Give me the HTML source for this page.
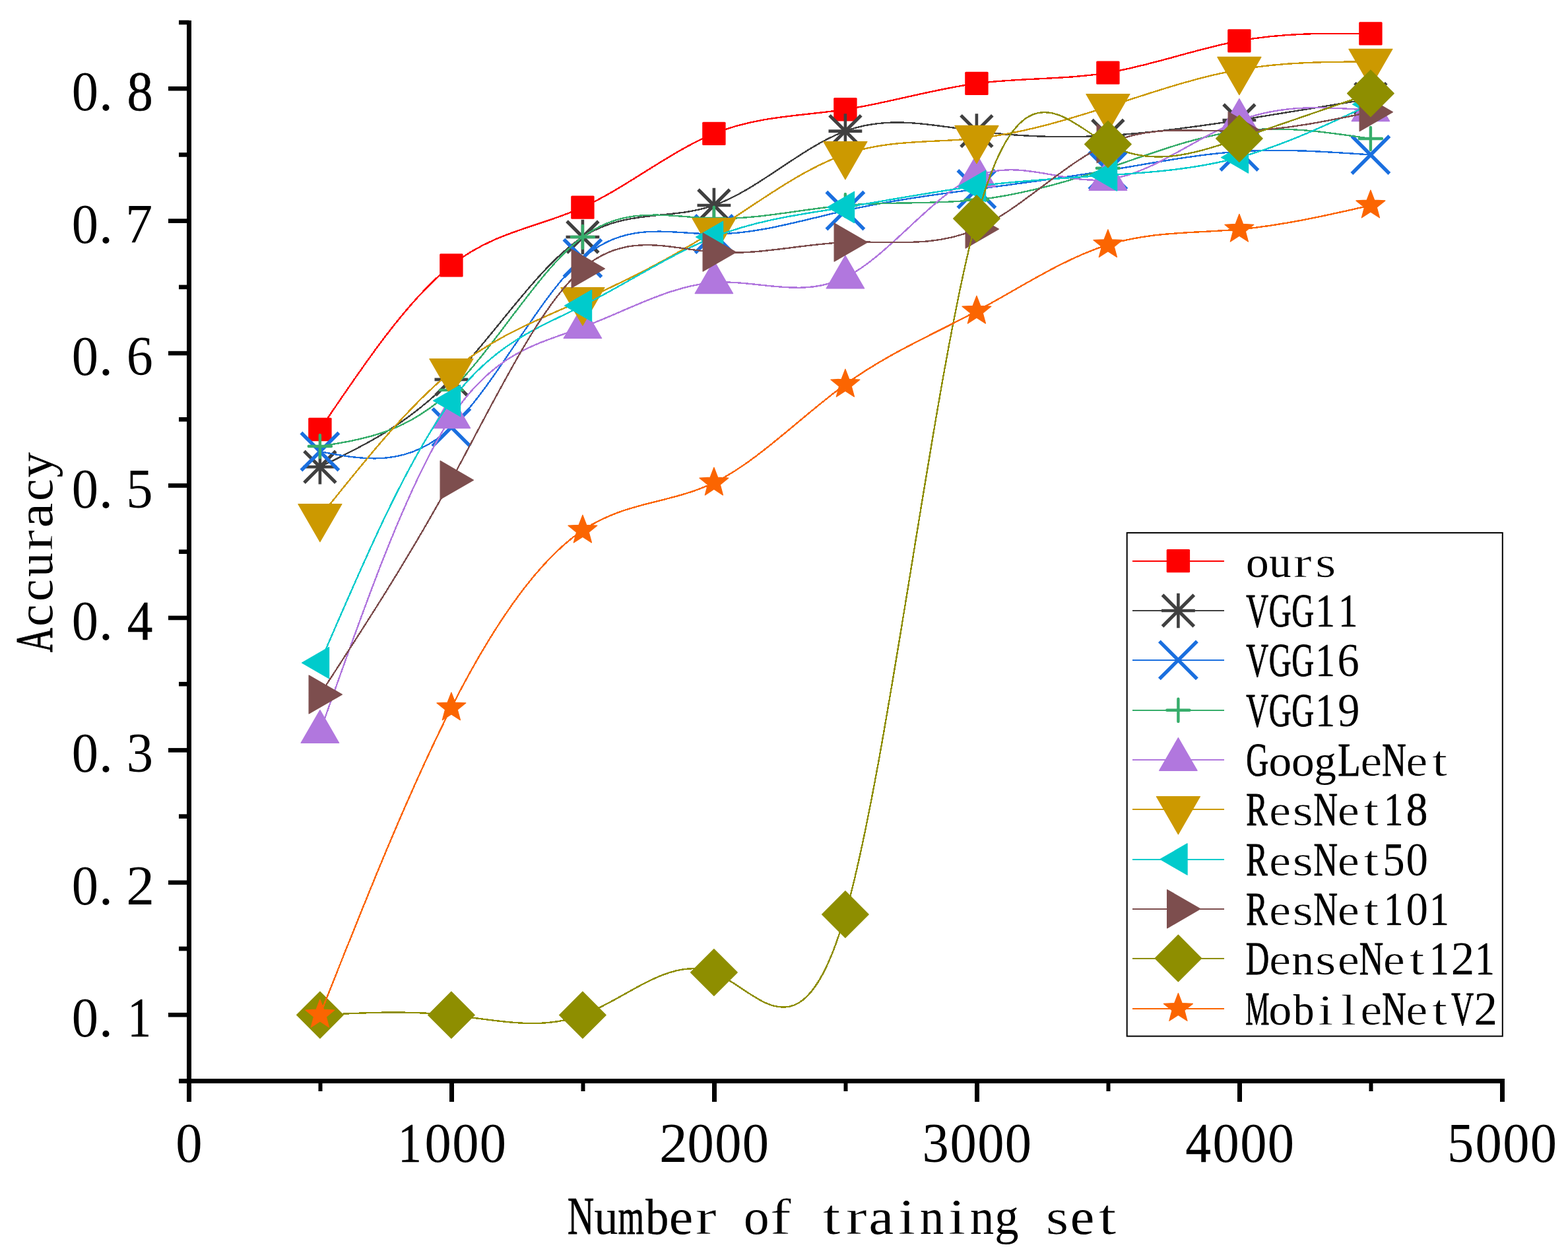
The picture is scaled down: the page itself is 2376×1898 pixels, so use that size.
<!DOCTYPE html>
<html lang="en">
<head>
<meta charset="utf-8">
<title>Accuracy vs number of training set</title>
<style>
html,body{margin:0;padding:0;background:#fff;}
body{width:2376px;height:1898px;overflow:hidden;}
svg{display:block;}
text{font-family:"Liberation Serif","Noto Serif CJK SC",serif;fill:#000;white-space:pre;}
</style>
</head>
<body>
<svg width="2376" height="1898" viewBox="0 0 2376 1898" role="img" aria-label="Accuracy versus number of training set">
<rect x="0" y="0" width="2376" height="1898" fill="#fff"/>
<g>
<path d="M484.9 650.5C551.23 552.2 617.57 453.89 683.9 401.9C750.23 349.91 816.57 344.22 882.9 314.1C949.23 283.98 1015.57 229.43 1081.9 202.4C1148.23 175.37 1214.57 175.87 1280.9 165.8C1347.23 155.73 1413.57 135.08 1479.9 126.4C1546.23 117.72 1612.57 121 1678.9 110.1C1745.23 99.2 1811.57 74.13 1877.9 61.9C1944.23 49.67 2010.57 50.29 2076.9 50.9" fill="none" stroke="#FE0000" stroke-width="2.4" shape-rendering="crispEdges"/>
<rect x="467.2" y="632.8" width="35.4" height="35.4" rx="1.5" fill="#FE0000"/>
<rect x="666.2" y="384.2" width="35.4" height="35.4" rx="1.5" fill="#FE0000"/>
<rect x="865.2" y="296.4" width="35.4" height="35.4" rx="1.5" fill="#FE0000"/>
<rect x="1064.2" y="184.7" width="35.4" height="35.4" rx="1.5" fill="#FE0000"/>
<rect x="1263.2" y="148.1" width="35.4" height="35.4" rx="1.5" fill="#FE0000"/>
<rect x="1462.2" y="108.7" width="35.4" height="35.4" rx="1.5" fill="#FE0000"/>
<rect x="1661.2" y="92.4" width="35.4" height="35.4" rx="1.5" fill="#FE0000"/>
<rect x="1860.2" y="44.2" width="35.4" height="35.4" rx="1.5" fill="#FE0000"/>
<rect x="2059.2" y="33.2" width="35.4" height="35.4" rx="1.5" fill="#FE0000"/>
</g>
<g>
<path d="M484.9 707.3C551.23 675.24 617.57 643.18 683.9 574.9C750.23 506.62 816.57 402.1 882.9 359C949.23 315.9 1015.57 334.2 1081.9 311C1148.23 287.8 1214.57 223.08 1280.9 198.6C1347.23 174.12 1413.57 189.86 1479.9 198.6C1546.23 207.34 1612.57 209.08 1678.9 205.3C1745.23 201.52 1811.57 192.2 1877.9 182C1944.23 171.8 2010.57 160.7 2076.9 149.6" fill="none" stroke="#404040" stroke-width="2.4" shape-rendering="crispEdges"/>
<path d="M459.5 707.3H510.3M484.9 681V733.6" stroke="#404040" stroke-width="4.6" fill="none"/><path d="M462.8 685.2L507 729.4M462.8 729.4L507 685.2" stroke="#404040" stroke-width="5.1" stroke-linecap="square" fill="none"/>
<path d="M658.5 574.9H709.3M683.9 548.6V601.2" stroke="#404040" stroke-width="4.6" fill="none"/><path d="M661.8 552.8L706 597M661.8 597L706 552.8" stroke="#404040" stroke-width="5.1" stroke-linecap="square" fill="none"/>
<path d="M857.5 359H908.3M882.9 332.7V385.3" stroke="#404040" stroke-width="4.6" fill="none"/><path d="M860.8 336.9L905 381.1M860.8 381.1L905 336.9" stroke="#404040" stroke-width="5.1" stroke-linecap="square" fill="none"/>
<path d="M1056.5 311H1107.3M1081.9 284.7V337.3" stroke="#404040" stroke-width="4.6" fill="none"/><path d="M1059.8 288.9L1104 333.1M1059.8 333.1L1104 288.9" stroke="#404040" stroke-width="5.1" stroke-linecap="square" fill="none"/>
<path d="M1255.5 198.6H1306.3M1280.9 172.3V224.9" stroke="#404040" stroke-width="4.6" fill="none"/><path d="M1258.8 176.5L1303 220.7M1258.8 220.7L1303 176.5" stroke="#404040" stroke-width="5.1" stroke-linecap="square" fill="none"/>
<path d="M1454.5 198.6H1505.3M1479.9 172.3V224.9" stroke="#404040" stroke-width="4.6" fill="none"/><path d="M1457.8 176.5L1502 220.7M1457.8 220.7L1502 176.5" stroke="#404040" stroke-width="5.1" stroke-linecap="square" fill="none"/>
<path d="M1653.5 205.3H1704.3M1678.9 179V231.6" stroke="#404040" stroke-width="4.6" fill="none"/><path d="M1656.8 183.2L1701 227.4M1656.8 227.4L1701 183.2" stroke="#404040" stroke-width="5.1" stroke-linecap="square" fill="none"/>
<path d="M1852.5 182H1903.3M1877.9 155.7V208.3" stroke="#404040" stroke-width="4.6" fill="none"/><path d="M1855.8 159.9L1900 204.1M1855.8 204.1L1900 159.9" stroke="#404040" stroke-width="5.1" stroke-linecap="square" fill="none"/>
<path d="M2051.5 149.6H2102.3M2076.9 123.3V175.9" stroke="#404040" stroke-width="4.6" fill="none"/><path d="M2054.8 127.5L2099 171.7M2054.8 171.7L2099 127.5" stroke="#404040" stroke-width="5.1" stroke-linecap="square" fill="none"/>
</g>
<g>
<path d="M484.9 684C551.23 696.62 617.57 709.24 683.9 647.3C750.23 585.36 816.57 448.84 882.9 391.1C949.23 333.36 1015.57 354.38 1081.9 354.5C1148.23 354.62 1214.57 333.84 1280.9 319C1347.23 304.16 1413.57 295.24 1479.9 286.5C1546.23 277.76 1612.57 269.18 1678.9 258.2C1745.23 247.22 1811.57 233.85 1877.9 229.5C1944.23 225.15 2010.57 229.83 2076.9 234.5" fill="none" stroke="#1A6FDF" stroke-width="2.4" shape-rendering="crispEdges"/>
<path d="M458.3 657.4L511.5 710.6M458.3 710.6L511.5 657.4" stroke="#1A6FDF" stroke-width="5.4" stroke-linecap="square" fill="none"/>
<path d="M657.3 620.7L710.5 673.9M657.3 673.9L710.5 620.7" stroke="#1A6FDF" stroke-width="5.4" stroke-linecap="square" fill="none"/>
<path d="M856.3 364.5L909.5 417.7M856.3 417.7L909.5 364.5" stroke="#1A6FDF" stroke-width="5.4" stroke-linecap="square" fill="none"/>
<path d="M1055.3 327.9L1108.5 381.1M1055.3 381.1L1108.5 327.9" stroke="#1A6FDF" stroke-width="5.4" stroke-linecap="square" fill="none"/>
<path d="M1254.3 292.4L1307.5 345.6M1254.3 345.6L1307.5 292.4" stroke="#1A6FDF" stroke-width="5.4" stroke-linecap="square" fill="none"/>
<path d="M1453.3 259.9L1506.5 313.1M1453.3 313.1L1506.5 259.9" stroke="#1A6FDF" stroke-width="5.4" stroke-linecap="square" fill="none"/>
<path d="M1652.3 231.6L1705.5 284.8M1652.3 284.8L1705.5 231.6" stroke="#1A6FDF" stroke-width="5.4" stroke-linecap="square" fill="none"/>
<path d="M1851.3 202.9L1904.5 256.1M1851.3 256.1L1904.5 202.9" stroke="#1A6FDF" stroke-width="5.4" stroke-linecap="square" fill="none"/>
<path d="M2050.3 207.9L2103.5 261.1M2050.3 261.1L2103.5 207.9" stroke="#1A6FDF" stroke-width="5.4" stroke-linecap="square" fill="none"/>
</g>
<g>
<path d="M484.9 676C551.23 665.6 617.57 655.21 683.9 590.9C750.23 526.59 816.57 408.37 882.9 359C949.23 309.63 1015.57 329.13 1081.9 330.9C1148.23 332.67 1214.57 316.73 1280.9 311C1347.23 305.27 1413.57 309.76 1479.9 302.7C1546.23 295.64 1612.57 277.02 1678.9 254.7C1745.23 232.38 1811.57 206.37 1877.9 198.3C1944.23 190.23 2010.57 200.12 2076.9 210" fill="none" stroke="#37AD6B" stroke-width="2.4" shape-rendering="crispEdges"/>
<path d="M467.8 676H502M484.9 658.9V693.1" stroke="#37AD6B" stroke-width="4.4" stroke-linecap="round" fill="none"/>
<path d="M666.8 590.9H701M683.9 573.8V608" stroke="#37AD6B" stroke-width="4.4" stroke-linecap="round" fill="none"/>
<path d="M865.8 359H900M882.9 341.9V376.1" stroke="#37AD6B" stroke-width="4.4" stroke-linecap="round" fill="none"/>
<path d="M1064.8 330.9H1099M1081.9 313.8V348" stroke="#37AD6B" stroke-width="4.4" stroke-linecap="round" fill="none"/>
<path d="M1263.8 311H1298M1280.9 293.9V328.1" stroke="#37AD6B" stroke-width="4.4" stroke-linecap="round" fill="none"/>
<path d="M1462.8 302.7H1497M1479.9 285.6V319.8" stroke="#37AD6B" stroke-width="4.4" stroke-linecap="round" fill="none"/>
<path d="M1661.8 254.7H1696M1678.9 237.6V271.8" stroke="#37AD6B" stroke-width="4.4" stroke-linecap="round" fill="none"/>
<path d="M1860.8 198.3H1895M1877.9 181.2V215.4" stroke="#37AD6B" stroke-width="4.4" stroke-linecap="round" fill="none"/>
<path d="M2059.8 210H2094M2076.9 192.9V227.1" stroke="#37AD6B" stroke-width="4.4" stroke-linecap="round" fill="none"/>
</g>
<g>
<path d="M484.9 1108.8C551.23 920.36 617.57 731.92 683.9 632C750.23 532.08 816.57 520.68 882.9 495.8C949.23 470.92 1015.57 432.55 1081.9 428C1148.23 423.45 1214.57 452.7 1280.9 420.3C1347.23 387.9 1413.57 293.85 1479.9 266.8C1546.23 239.75 1612.57 279.7 1678.9 271.8C1745.23 263.9 1811.57 208.14 1877.9 182.7C1944.23 157.26 2010.57 162.13 2076.9 167" fill="none" stroke="#B177DE" stroke-width="2.4" shape-rendering="crispEdges"/>
<polygon points="484.9,1075.59 513.66,1125.4 456.14,1125.4" fill="#B177DE" stroke="#B177DE" stroke-width="1.2" stroke-linejoin="round"/>
<polygon points="683.9,598.79 712.66,648.6 655.14,648.6" fill="#B177DE" stroke="#B177DE" stroke-width="1.2" stroke-linejoin="round"/>
<polygon points="882.9,462.59 911.66,512.4 854.14,512.4" fill="#B177DE" stroke="#B177DE" stroke-width="1.2" stroke-linejoin="round"/>
<polygon points="1081.9,394.79 1110.66,444.6 1053.14,444.6" fill="#B177DE" stroke="#B177DE" stroke-width="1.2" stroke-linejoin="round"/>
<polygon points="1280.9,387.09 1309.66,436.9 1252.14,436.9" fill="#B177DE" stroke="#B177DE" stroke-width="1.2" stroke-linejoin="round"/>
<polygon points="1479.9,233.59 1508.66,283.4 1451.14,283.4" fill="#B177DE" stroke="#B177DE" stroke-width="1.2" stroke-linejoin="round"/>
<polygon points="1678.9,238.59 1707.66,288.4 1650.14,288.4" fill="#B177DE" stroke="#B177DE" stroke-width="1.2" stroke-linejoin="round"/>
<polygon points="1877.9,149.49 1906.66,199.3 1849.14,199.3" fill="#B177DE" stroke="#B177DE" stroke-width="1.2" stroke-linejoin="round"/>
<polygon points="2076.9,133.79 2105.66,183.6 2048.14,183.6" fill="#B177DE" stroke="#B177DE" stroke-width="1.2" stroke-linejoin="round"/>
</g>
<g>
<path d="M484.9 782.6C551.23 699.56 617.57 616.52 683.9 562.6C750.23 508.68 816.57 483.9 882.9 454.7C949.23 425.5 1015.57 391.9 1081.9 349.6C1148.23 307.3 1214.57 256.3 1280.9 233.6C1347.23 210.9 1413.57 216.49 1479.9 209.5C1546.23 202.51 1612.57 182.94 1678.9 161.6C1745.23 140.26 1811.57 117.16 1877.9 105.5C1944.23 93.84 2010.57 93.62 2076.9 93.4" fill="none" stroke="#CC9900" stroke-width="2.4" shape-rendering="crispEdges"/>
<polygon points="484.9,820.77 517.96,763.51 451.84,763.51" fill="#CC9900" stroke="#CC9900" stroke-width="1.2" stroke-linejoin="round"/>
<polygon points="683.9,600.77 716.96,543.51 650.84,543.51" fill="#CC9900" stroke="#CC9900" stroke-width="1.2" stroke-linejoin="round"/>
<polygon points="882.9,492.87 915.96,435.61 849.84,435.61" fill="#CC9900" stroke="#CC9900" stroke-width="1.2" stroke-linejoin="round"/>
<polygon points="1081.9,387.77 1114.96,330.51 1048.84,330.51" fill="#CC9900" stroke="#CC9900" stroke-width="1.2" stroke-linejoin="round"/>
<polygon points="1280.9,271.77 1313.96,214.51 1247.84,214.51" fill="#CC9900" stroke="#CC9900" stroke-width="1.2" stroke-linejoin="round"/>
<polygon points="1479.9,247.67 1512.96,190.41 1446.84,190.41" fill="#CC9900" stroke="#CC9900" stroke-width="1.2" stroke-linejoin="round"/>
<polygon points="1678.9,199.77 1711.96,142.51 1645.84,142.51" fill="#CC9900" stroke="#CC9900" stroke-width="1.2" stroke-linejoin="round"/>
<polygon points="1877.9,143.67 1910.96,86.41 1844.84,86.41" fill="#CC9900" stroke="#CC9900" stroke-width="1.2" stroke-linejoin="round"/>
<polygon points="2076.9,131.57 2109.96,74.31 2043.84,74.31" fill="#CC9900" stroke="#CC9900" stroke-width="1.2" stroke-linejoin="round"/>
</g>
<g>
<path d="M484.9 1004C551.23 849.7 617.57 695.41 683.9 607.1C750.23 518.79 816.57 496.47 882.9 463.1C949.23 429.73 1015.57 385.31 1081.9 359C1148.23 332.69 1214.57 324.5 1280.9 313.9C1347.23 303.3 1413.57 290.31 1479.9 281.9C1546.23 273.49 1612.57 269.68 1678.9 265.4C1745.23 261.12 1811.57 256.38 1877.9 238.4C1944.23 220.42 2010.57 189.21 2076.9 158" fill="none" stroke="#00CBCC" stroke-width="2.4" shape-rendering="crispEdges"/>
<polygon points="457.52,1004 498.59,980.29 498.59,1027.71" fill="#00CBCC" stroke="#00CBCC" stroke-width="1.2" stroke-linejoin="round"/>
<polygon points="656.52,607.1 697.59,583.39 697.59,630.81" fill="#00CBCC" stroke="#00CBCC" stroke-width="1.2" stroke-linejoin="round"/>
<polygon points="855.52,463.1 896.59,439.39 896.59,486.81" fill="#00CBCC" stroke="#00CBCC" stroke-width="1.2" stroke-linejoin="round"/>
<polygon points="1054.52,359 1095.59,335.29 1095.59,382.71" fill="#00CBCC" stroke="#00CBCC" stroke-width="1.2" stroke-linejoin="round"/>
<polygon points="1253.52,313.9 1294.59,290.19 1294.59,337.61" fill="#00CBCC" stroke="#00CBCC" stroke-width="1.2" stroke-linejoin="round"/>
<polygon points="1452.52,281.9 1493.59,258.19 1493.59,305.61" fill="#00CBCC" stroke="#00CBCC" stroke-width="1.2" stroke-linejoin="round"/>
<polygon points="1651.52,265.4 1692.59,241.69 1692.59,289.11" fill="#00CBCC" stroke="#00CBCC" stroke-width="1.2" stroke-linejoin="round"/>
<polygon points="1850.52,238.4 1891.59,214.69 1891.59,262.11" fill="#00CBCC" stroke="#00CBCC" stroke-width="1.2" stroke-linejoin="round"/>
<polygon points="2049.52,158 2090.59,134.29 2090.59,181.71" fill="#00CBCC" stroke="#00CBCC" stroke-width="1.2" stroke-linejoin="round"/>
</g>
<g>
<path d="M484.9 1052C551.23 950.39 617.57 848.79 683.9 727.2C750.23 605.61 816.57 464.05 882.9 406.9C949.23 349.75 1015.57 377.02 1081.9 382C1148.23 386.98 1214.57 369.68 1280.9 367C1347.23 364.32 1413.57 376.28 1479.9 347C1546.23 317.72 1612.57 247.21 1678.9 217.7C1745.23 188.19 1811.57 199.67 1877.9 198.5C1944.23 197.33 2010.57 183.52 2076.9 169.7" fill="none" stroke="#7D4E4E" stroke-width="2.4" shape-rendering="crispEdges"/>
<polygon points="518.46,1052 468.12,1022.94 468.12,1081.06" fill="#7D4E4E" stroke="#7D4E4E" stroke-width="1.2" stroke-linejoin="round"/>
<polygon points="717.46,727.2 667.12,698.14 667.12,756.26" fill="#7D4E4E" stroke="#7D4E4E" stroke-width="1.2" stroke-linejoin="round"/>
<polygon points="916.46,406.9 866.12,377.84 866.12,435.96" fill="#7D4E4E" stroke="#7D4E4E" stroke-width="1.2" stroke-linejoin="round"/>
<polygon points="1115.46,382 1065.12,352.94 1065.12,411.06" fill="#7D4E4E" stroke="#7D4E4E" stroke-width="1.2" stroke-linejoin="round"/>
<polygon points="1314.46,367 1264.12,337.94 1264.12,396.06" fill="#7D4E4E" stroke="#7D4E4E" stroke-width="1.2" stroke-linejoin="round"/>
<polygon points="1513.46,347 1463.12,317.94 1463.12,376.06" fill="#7D4E4E" stroke="#7D4E4E" stroke-width="1.2" stroke-linejoin="round"/>
<polygon points="1712.46,217.7 1662.12,188.64 1662.12,246.76" fill="#7D4E4E" stroke="#7D4E4E" stroke-width="1.2" stroke-linejoin="round"/>
<polygon points="1911.46,198.5 1861.12,169.44 1861.12,227.56" fill="#7D4E4E" stroke="#7D4E4E" stroke-width="1.2" stroke-linejoin="round"/>
<polygon points="2110.46,169.7 2060.12,140.64 2060.12,198.76" fill="#7D4E4E" stroke="#7D4E4E" stroke-width="1.2" stroke-linejoin="round"/>
</g>
<g>
<path d="M484.9 1537.4C551.23 1534.01 617.57 1530.62 683.9 1537.6C750.23 1544.58 816.57 1561.93 882.9 1537.6C949.23 1513.27 1015.57 1447.24 1081.9 1473C1148.23 1498.76 1214.57 1616.3 1280.9 1385.1C1347.23 1153.9 1413.57 573.96 1479.9 331.1C1546.23 88.24 1612.57 182.45 1678.9 218.5C1745.23 254.55 1811.57 232.43 1877.9 209.9C1944.23 187.37 2010.57 164.44 2076.9 141.5" fill="none" stroke="#8E8E00" stroke-width="2.4" shape-rendering="crispEdges"/>
<polygon points="484.9,1502.05 520.25,1537.4 484.9,1572.75 449.55,1537.4" fill="#8E8E00" stroke="#8E8E00" stroke-width="1.2" stroke-linejoin="round"/>
<polygon points="683.9,1502.25 719.25,1537.6 683.9,1572.95 648.55,1537.6" fill="#8E8E00" stroke="#8E8E00" stroke-width="1.2" stroke-linejoin="round"/>
<polygon points="882.9,1502.25 918.25,1537.6 882.9,1572.95 847.55,1537.6" fill="#8E8E00" stroke="#8E8E00" stroke-width="1.2" stroke-linejoin="round"/>
<polygon points="1081.9,1437.65 1117.25,1473 1081.9,1508.35 1046.55,1473" fill="#8E8E00" stroke="#8E8E00" stroke-width="1.2" stroke-linejoin="round"/>
<polygon points="1280.9,1349.75 1316.25,1385.1 1280.9,1420.45 1245.55,1385.1" fill="#8E8E00" stroke="#8E8E00" stroke-width="1.2" stroke-linejoin="round"/>
<polygon points="1479.9,295.75 1515.25,331.1 1479.9,366.45 1444.55,331.1" fill="#8E8E00" stroke="#8E8E00" stroke-width="1.2" stroke-linejoin="round"/>
<polygon points="1678.9,183.15 1714.25,218.5 1678.9,253.85 1643.55,218.5" fill="#8E8E00" stroke="#8E8E00" stroke-width="1.2" stroke-linejoin="round"/>
<polygon points="1877.9,174.55 1913.25,209.9 1877.9,245.25 1842.55,209.9" fill="#8E8E00" stroke="#8E8E00" stroke-width="1.2" stroke-linejoin="round"/>
<polygon points="2076.9,106.15 2112.25,141.5 2076.9,176.85 2041.55,141.5" fill="#8E8E00" stroke="#8E8E00" stroke-width="1.2" stroke-linejoin="round"/>
</g>
<g>
<path d="M484.9 1537.2C551.23 1369.85 617.57 1202.5 683.9 1072C750.23 941.5 816.57 847.85 882.9 803.3C949.23 758.75 1015.57 763.31 1081.9 731.2C1148.23 699.09 1214.57 630.31 1280.9 582.3C1347.23 534.29 1413.57 507.04 1479.9 471.3C1546.23 435.56 1612.57 391.34 1678.9 370.8C1745.23 350.26 1811.57 353.4 1877.9 347.4C1944.23 341.4 2010.57 326.25 2076.9 311.1" fill="none" stroke="#FB6501" stroke-width="2.4" shape-rendering="crispEdges"/>
<polygon points="484.9,1514.07 490.71,1529.2 506.89,1530.05 494.3,1540.25 498.49,1555.91 484.9,1547.08 471.31,1555.91 475.5,1540.25 462.91,1530.05 479.09,1529.2" fill="#FB6501" stroke="#FB6501" stroke-width="1.2" stroke-linejoin="round"/>
<polygon points="683.9,1048.87 689.71,1064 705.89,1064.85 693.3,1075.05 697.49,1090.71 683.9,1081.88 670.31,1090.71 674.5,1075.05 661.91,1064.85 678.09,1064" fill="#FB6501" stroke="#FB6501" stroke-width="1.2" stroke-linejoin="round"/>
<polygon points="882.9,780.17 888.71,795.3 904.89,796.15 892.3,806.35 896.49,822.01 882.9,813.18 869.31,822.01 873.5,806.35 860.91,796.15 877.09,795.3" fill="#FB6501" stroke="#FB6501" stroke-width="1.2" stroke-linejoin="round"/>
<polygon points="1081.9,708.07 1087.71,723.2 1103.89,724.05 1091.3,734.25 1095.49,749.91 1081.9,741.08 1068.31,749.91 1072.5,734.25 1059.91,724.05 1076.09,723.2" fill="#FB6501" stroke="#FB6501" stroke-width="1.2" stroke-linejoin="round"/>
<polygon points="1280.9,559.17 1286.71,574.3 1302.89,575.15 1290.3,585.35 1294.49,601.01 1280.9,592.18 1267.31,601.01 1271.5,585.35 1258.91,575.15 1275.09,574.3" fill="#FB6501" stroke="#FB6501" stroke-width="1.2" stroke-linejoin="round"/>
<polygon points="1479.9,448.17 1485.71,463.3 1501.89,464.15 1489.3,474.35 1493.49,490.01 1479.9,481.18 1466.31,490.01 1470.5,474.35 1457.91,464.15 1474.09,463.3" fill="#FB6501" stroke="#FB6501" stroke-width="1.2" stroke-linejoin="round"/>
<polygon points="1678.9,347.67 1684.71,362.8 1700.89,363.65 1688.3,373.85 1692.49,389.51 1678.9,380.68 1665.31,389.51 1669.5,373.85 1656.91,363.65 1673.09,362.8" fill="#FB6501" stroke="#FB6501" stroke-width="1.2" stroke-linejoin="round"/>
<polygon points="1877.9,324.27 1883.71,339.4 1899.89,340.25 1887.3,350.45 1891.49,366.11 1877.9,357.28 1864.31,366.11 1868.5,350.45 1855.91,340.25 1872.09,339.4" fill="#FB6501" stroke="#FB6501" stroke-width="1.2" stroke-linejoin="round"/>
<polygon points="2076.9,287.97 2082.71,303.1 2098.89,303.95 2086.3,314.15 2090.49,329.81 2076.9,320.98 2063.31,329.81 2067.5,314.15 2054.91,303.95 2071.09,303.1" fill="#FB6501" stroke="#FB6501" stroke-width="1.2" stroke-linejoin="round"/>
</g>
<g fill="#000"><rect x="283" y="31" width="7" height="1638"/><rect x="271" y="1634" width="2009" height="7"/><rect x="255" y="1533.98" width="31.5" height="6.6"/><rect x="271" y="1433.76" width="15.5" height="6.6"/><rect x="255" y="1333.54" width="31.5" height="6.6"/><rect x="271" y="1233.32" width="15.5" height="6.6"/><rect x="255" y="1133.1" width="31.5" height="6.6"/><rect x="271" y="1032.88" width="15.5" height="6.6"/><rect x="255" y="932.66" width="31.5" height="6.6"/><rect x="271" y="832.44" width="15.5" height="6.6"/><rect x="255" y="732.22" width="31.5" height="6.6"/><rect x="271" y="632" width="15.5" height="6.6"/><rect x="255" y="531.78" width="31.5" height="6.6"/><rect x="271" y="431.56" width="15.5" height="6.6"/><rect x="255" y="331.34" width="31.5" height="6.6"/><rect x="271" y="231.12" width="15.5" height="6.6"/><rect x="255" y="130.9" width="31.5" height="6.6"/><rect x="271" y="30.68" width="15.5" height="6.6"/><rect x="283" y="1637.5" width="7" height="31.5"/><rect x="482.5" y="1637.5" width="6" height="15.5"/><rect x="681" y="1637.5" width="7" height="31.5"/><rect x="880.5" y="1637.5" width="6" height="15.5"/><rect x="1079" y="1637.5" width="7" height="31.5"/><rect x="1278.5" y="1637.5" width="6" height="15.5"/><rect x="1477" y="1637.5" width="7" height="31.5"/><rect x="1676.5" y="1637.5" width="6" height="15.5"/><rect x="1875" y="1637.5" width="7" height="31.5"/><rect x="2074.5" y="1637.5" width="6" height="15.5"/><rect x="2273" y="1637.5" width="7" height="31.5"/></g>
<text y="1570.28" font-size="85.53"><tspan x="108.68" textLength="40.31" lengthAdjust="spacingAndGlyphs">0</tspan><tspan x="149.87">.</tspan><tspan x="193.43" textLength="35.51" lengthAdjust="spacingAndGlyphs" stroke="#000" stroke-width="0.5">1</tspan></text>
<text y="1369.84" font-size="85.53"><tspan x="108.68" textLength="40.31" lengthAdjust="spacingAndGlyphs">0</tspan><tspan x="149.87">.</tspan><tspan x="191.27">2</tspan></text>
<text y="1169.4" font-size="85.53"><tspan x="108.68" textLength="40.31" lengthAdjust="spacingAndGlyphs">0</tspan><tspan x="149.87">.</tspan><tspan x="191.64" textLength="40.35" lengthAdjust="spacingAndGlyphs">3</tspan></text>
<text y="968.96" font-size="85.53"><tspan x="108.68" textLength="40.31" lengthAdjust="spacingAndGlyphs">0</tspan><tspan x="149.87">.</tspan><tspan x="192.75" textLength="38.54" lengthAdjust="spacingAndGlyphs" stroke="#000" stroke-width="0.5">4</tspan></text>
<text y="768.52" font-size="85.53"><tspan x="108.68" textLength="40.31" lengthAdjust="spacingAndGlyphs">0</tspan><tspan x="149.87">.</tspan><tspan x="191.23" textLength="40.34" lengthAdjust="spacingAndGlyphs">5</tspan></text>
<text y="568.08" font-size="85.53"><tspan x="108.68" textLength="40.31" lengthAdjust="spacingAndGlyphs">0</tspan><tspan x="149.87">.</tspan><tspan x="191.65" textLength="39.99" lengthAdjust="spacingAndGlyphs">6</tspan></text>
<text y="367.64" font-size="85.53"><tspan x="108.68" textLength="40.31" lengthAdjust="spacingAndGlyphs">0</tspan><tspan x="149.87">.</tspan><tspan x="190.08" textLength="41.12" lengthAdjust="spacingAndGlyphs">7</tspan></text>
<text y="167.2" font-size="85.53"><tspan x="108.68" textLength="40.31" lengthAdjust="spacingAndGlyphs">0</tspan><tspan x="149.87">.</tspan><tspan x="192.51" textLength="39.32" lengthAdjust="spacingAndGlyphs" stroke="#000" stroke-width="0.5">8</tspan></text>
<text y="1760" font-size="85.53"><tspan x="266.35" textLength="40.31" lengthAdjust="spacingAndGlyphs">0</tspan></text>
<text y="1760" font-size="85.53"><tspan x="603.26" textLength="35.51" lengthAdjust="spacingAndGlyphs" stroke="#000" stroke-width="0.5">1</tspan><tspan x="643.51" textLength="40.31" lengthAdjust="spacingAndGlyphs">0</tspan><tspan x="685.18" textLength="40.31" lengthAdjust="spacingAndGlyphs">0</tspan><tspan x="726.85" textLength="40.31" lengthAdjust="spacingAndGlyphs">0</tspan></text>
<text y="1760" font-size="85.53"><tspan x="999.1">2</tspan><tspan x="1041.51" textLength="40.31" lengthAdjust="spacingAndGlyphs">0</tspan><tspan x="1083.18" textLength="40.31" lengthAdjust="spacingAndGlyphs">0</tspan><tspan x="1124.85" textLength="40.31" lengthAdjust="spacingAndGlyphs">0</tspan></text>
<text y="1760" font-size="85.53"><tspan x="1397.47" textLength="40.35" lengthAdjust="spacingAndGlyphs">3</tspan><tspan x="1439.51" textLength="40.31" lengthAdjust="spacingAndGlyphs">0</tspan><tspan x="1481.18" textLength="40.31" lengthAdjust="spacingAndGlyphs">0</tspan><tspan x="1522.85" textLength="40.31" lengthAdjust="spacingAndGlyphs">0</tspan></text>
<text y="1760" font-size="85.53"><tspan x="1796.58" textLength="38.54" lengthAdjust="spacingAndGlyphs" stroke="#000" stroke-width="0.5">4</tspan><tspan x="1837.51" textLength="40.31" lengthAdjust="spacingAndGlyphs">0</tspan><tspan x="1879.18" textLength="40.31" lengthAdjust="spacingAndGlyphs">0</tspan><tspan x="1920.85" textLength="40.31" lengthAdjust="spacingAndGlyphs">0</tspan></text>
<text y="1760" font-size="85.53"><tspan x="2193.06" textLength="40.34" lengthAdjust="spacingAndGlyphs">5</tspan><tspan x="2235.51" textLength="40.31" lengthAdjust="spacingAndGlyphs">0</tspan><tspan x="2277.18" textLength="40.31" lengthAdjust="spacingAndGlyphs">0</tspan><tspan x="2318.85" textLength="40.31" lengthAdjust="spacingAndGlyphs">0</tspan></text>
<text y="1868.5" font-size="79.5"><tspan x="860.08" textLength="40.12" lengthAdjust="spacingAndGlyphs" stroke="#000" stroke-width="1">N</tspan><tspan x="900.24" font-size="77" textLength="36.4" lengthAdjust="spacingAndGlyphs">u</tspan><tspan x="936.63" font-size="77" textLength="39.08" lengthAdjust="spacingAndGlyphs" stroke="#000" stroke-width="1">m</tspan><tspan x="978.15" font-size="77" textLength="34.96" lengthAdjust="spacingAndGlyphs" stroke="#000" stroke-width="0.5">b</tspan><tspan x="1013.89" font-size="77" textLength="36.46" lengthAdjust="spacingAndGlyphs">e</tspan><tspan x="1053.73" font-size="77" textLength="32.05" lengthAdjust="spacingAndGlyphs" stroke="#fff" stroke-width="0.7">r</tspan> <tspan x="1127.05" font-size="77">o</tspan><tspan x="1166.79" font-size="77" textLength="32.05" lengthAdjust="spacingAndGlyphs" stroke="#fff" stroke-width="0.7">f</tspan> <tspan x="1246.74" font-size="77" textLength="26.74" lengthAdjust="spacingAndGlyphs" stroke="#fff" stroke-width="0.7">t</tspan><tspan x="1281.73" font-size="77" textLength="32.05" lengthAdjust="spacingAndGlyphs" stroke="#fff" stroke-width="0.7">r</tspan><tspan x="1316.6" font-size="77" textLength="37.57" lengthAdjust="spacingAndGlyphs">a</tspan><tspan x="1360.89" font-size="77" textLength="26.64" lengthAdjust="spacingAndGlyphs" stroke="#fff" stroke-width="0.7">i</tspan><tspan x="1393.92" font-size="77" textLength="36.2" lengthAdjust="spacingAndGlyphs">n</tspan><tspan x="1436.89" font-size="77" textLength="26.64" lengthAdjust="spacingAndGlyphs" stroke="#fff" stroke-width="0.7">i</tspan><tspan x="1469.92" font-size="77" textLength="36.2" lengthAdjust="spacingAndGlyphs">n</tspan><tspan x="1507.21" font-size="77" textLength="36.44" lengthAdjust="spacingAndGlyphs">g</tspan> <tspan x="1584.78" font-size="77" textLength="34.6" lengthAdjust="spacingAndGlyphs" stroke="#fff" stroke-width="0.7">s</tspan><tspan x="1621.89" font-size="77" textLength="36.46" lengthAdjust="spacingAndGlyphs">e</tspan><tspan x="1664.74" font-size="77" textLength="26.74" lengthAdjust="spacingAndGlyphs" stroke="#fff" stroke-width="0.7">t</tspan></text>
<text y="0" font-size="79.5" transform="translate(79 988.8) rotate(-90)"><tspan x="0.45" textLength="36.98" lengthAdjust="spacingAndGlyphs" stroke="#000" stroke-width="1">A</tspan><tspan x="40.08" font-size="77" textLength="33.28" lengthAdjust="spacingAndGlyphs">c</tspan><tspan x="78.08" font-size="77" textLength="33.28" lengthAdjust="spacingAndGlyphs">c</tspan><tspan x="114.94" font-size="77" textLength="36.4" lengthAdjust="spacingAndGlyphs">u</tspan><tspan x="154.43" font-size="77" textLength="32.05" lengthAdjust="spacingAndGlyphs" stroke="#fff" stroke-width="0.7">r</tspan><tspan x="189.3" font-size="77" textLength="37.57" lengthAdjust="spacingAndGlyphs">a</tspan><tspan x="230.08" font-size="77" textLength="33.28" lengthAdjust="spacingAndGlyphs">c</tspan><tspan x="265.43" font-size="77">y</tspan></text>
<rect x="1707.7" y="807.1" width="569.1" height="762.5" fill="#fff" stroke="#000" stroke-width="2"/>
<rect x="1716" y="849" width="139" height="2" fill="#FE0000"/>
<rect x="1767.7" y="831.9" width="35.4" height="35.4" rx="1.5" fill="#FE0000"/>
<text y="873.6" font-size="71"><tspan x="1887.95" font-size="66.5" textLength="34.65" lengthAdjust="spacingAndGlyphs">o</tspan><tspan x="1923.33" font-size="66.5">u</tspan><tspan x="1960.07" font-size="66.5" textLength="27.68" lengthAdjust="spacingAndGlyphs" stroke="#fff" stroke-width="0.7">r</tspan><tspan x="1993" font-size="66.5" textLength="31.46" lengthAdjust="spacingAndGlyphs" stroke="#fff" stroke-width="0.7">s</tspan></text>
<rect x="1716" y="924" width="139" height="2" fill="#404040"/>
<path d="M1760 925H1810.8M1785.4 898.7V951.3" stroke="#404040" stroke-width="4.6" fill="none"/><path d="M1763.3 902.9L1807.5 947.1M1763.3 947.1L1807.5 902.9" stroke="#404040" stroke-width="5.1" stroke-linecap="square" fill="none"/>
<text y="949" font-size="71"><tspan x="1888.34" textLength="33.88" lengthAdjust="spacingAndGlyphs" stroke="#000" stroke-width="1">V</tspan><tspan x="1922.7" textLength="33.78" lengthAdjust="spacingAndGlyphs" stroke="#000" stroke-width="1">G</tspan><tspan x="1957.25" textLength="33.78" lengthAdjust="spacingAndGlyphs" stroke="#000" stroke-width="1">G</tspan><tspan x="1993.38" textLength="29.44" lengthAdjust="spacingAndGlyphs" stroke="#000" stroke-width="0.5">1</tspan><tspan x="2027.93" textLength="29.44" lengthAdjust="spacingAndGlyphs" stroke="#000" stroke-width="0.5">1</tspan></text>
<rect x="1716" y="999" width="139" height="2" fill="#1A6FDF"/>
<path d="M1758.8 973.3L1812 1026.5M1758.8 1026.5L1812 973.3" stroke="#1A6FDF" stroke-width="5.4" stroke-linecap="square" fill="none"/>
<text y="1023.9" font-size="71"><tspan x="1888.34" textLength="33.88" lengthAdjust="spacingAndGlyphs" stroke="#000" stroke-width="1">V</tspan><tspan x="1922.7" textLength="33.78" lengthAdjust="spacingAndGlyphs" stroke="#000" stroke-width="1">G</tspan><tspan x="1957.25" textLength="33.78" lengthAdjust="spacingAndGlyphs" stroke="#000" stroke-width="1">G</tspan><tspan x="1993.38" textLength="29.44" lengthAdjust="spacingAndGlyphs" stroke="#000" stroke-width="0.5">1</tspan><tspan x="2026.46" textLength="33.16" lengthAdjust="spacingAndGlyphs">6</tspan></text>
<rect x="1716" y="1075" width="139" height="2" fill="#37AD6B"/>
<path d="M1768.3 1075.8H1802.5M1785.4 1058.7V1092.9" stroke="#37AD6B" stroke-width="4.4" stroke-linecap="round" fill="none"/>
<text y="1099.8" font-size="71"><tspan x="1888.34" textLength="33.88" lengthAdjust="spacingAndGlyphs" stroke="#000" stroke-width="1">V</tspan><tspan x="1922.7" textLength="33.78" lengthAdjust="spacingAndGlyphs" stroke="#000" stroke-width="1">G</tspan><tspan x="1957.25" textLength="33.78" lengthAdjust="spacingAndGlyphs" stroke="#000" stroke-width="1">G</tspan><tspan x="1993.38" textLength="29.44" lengthAdjust="spacingAndGlyphs" stroke="#000" stroke-width="0.5">1</tspan><tspan x="2027.17" textLength="33.19" lengthAdjust="spacingAndGlyphs">9</tspan></text>
<rect x="1716" y="1150" width="139" height="2" fill="#B177DE"/>
<polygon points="1785.4,1117.49 1814.16,1167.3 1756.64,1167.3" fill="#B177DE" stroke="#B177DE" stroke-width="1.2" stroke-linejoin="round"/>
<text y="1174.7" font-size="71"><tspan x="1888.15" textLength="33.78" lengthAdjust="spacingAndGlyphs" stroke="#000" stroke-width="1">G</tspan><tspan x="1922.5" font-size="66.5" textLength="34.65" lengthAdjust="spacingAndGlyphs">o</tspan><tspan x="1957.05" font-size="66.5" textLength="34.65" lengthAdjust="spacingAndGlyphs">o</tspan><tspan x="1991.5" font-size="66.5">g</tspan><tspan x="2027.17" textLength="34.37" lengthAdjust="spacingAndGlyphs" stroke="#000" stroke-width="1">L</tspan><tspan x="2061.29" font-size="66.5" textLength="33.15" lengthAdjust="spacingAndGlyphs" stroke="#fff" stroke-width="0.7">e</tspan><tspan x="2094.19" textLength="36.47" lengthAdjust="spacingAndGlyphs" stroke="#000" stroke-width="1">N</tspan><tspan x="2130.39" font-size="66.5" textLength="33.15" lengthAdjust="spacingAndGlyphs" stroke="#fff" stroke-width="0.7">e</tspan><tspan x="2169.97" font-size="66.5" textLength="23.09" lengthAdjust="spacingAndGlyphs" stroke="#fff" stroke-width="0.7">t</tspan></text>
<rect x="1716" y="1225" width="139" height="2" fill="#CC9900"/>
<polygon points="1785.4,1263.77 1818.46,1206.51 1752.34,1206.51" fill="#CC9900" stroke="#CC9900" stroke-width="1.2" stroke-linejoin="round"/>
<text y="1249.6" font-size="71"><tspan x="1888.32" textLength="32.57" lengthAdjust="spacingAndGlyphs" stroke="#000" stroke-width="1">R</tspan><tspan x="1923.09" font-size="66.5" textLength="33.15" lengthAdjust="spacingAndGlyphs" stroke="#fff" stroke-width="0.7">e</tspan><tspan x="1958.45" font-size="66.5" textLength="31.46" lengthAdjust="spacingAndGlyphs" stroke="#fff" stroke-width="0.7">s</tspan><tspan x="1990.54" textLength="36.47" lengthAdjust="spacingAndGlyphs" stroke="#000" stroke-width="1">N</tspan><tspan x="2026.74" font-size="66.5" textLength="33.15" lengthAdjust="spacingAndGlyphs" stroke="#fff" stroke-width="0.7">e</tspan><tspan x="2066.32" font-size="66.5" textLength="23.09" lengthAdjust="spacingAndGlyphs" stroke="#fff" stroke-width="0.7">t</tspan><tspan x="2097.03" textLength="29.44" lengthAdjust="spacingAndGlyphs" stroke="#000" stroke-width="0.5">1</tspan><tspan x="2130.82" textLength="32.61" lengthAdjust="spacingAndGlyphs" stroke="#000" stroke-width="0.5">8</tspan></text>
<rect x="1716" y="1301" width="139" height="2" fill="#00CBCC"/>
<polygon points="1758.02,1301.6 1799.09,1277.89 1799.09,1325.31" fill="#00CBCC" stroke="#00CBCC" stroke-width="1.2" stroke-linejoin="round"/>
<text y="1325.6" font-size="71"><tspan x="1888.32" textLength="32.57" lengthAdjust="spacingAndGlyphs" stroke="#000" stroke-width="1">R</tspan><tspan x="1923.09" font-size="66.5" textLength="33.15" lengthAdjust="spacingAndGlyphs" stroke="#fff" stroke-width="0.7">e</tspan><tspan x="1958.45" font-size="66.5" textLength="31.46" lengthAdjust="spacingAndGlyphs" stroke="#fff" stroke-width="0.7">s</tspan><tspan x="1990.54" textLength="36.47" lengthAdjust="spacingAndGlyphs" stroke="#000" stroke-width="1">N</tspan><tspan x="2026.74" font-size="66.5" textLength="33.15" lengthAdjust="spacingAndGlyphs" stroke="#fff" stroke-width="0.7">e</tspan><tspan x="2066.32" font-size="66.5" textLength="23.09" lengthAdjust="spacingAndGlyphs" stroke="#fff" stroke-width="0.7">t</tspan><tspan x="2095.21" textLength="33.45" lengthAdjust="spacingAndGlyphs">5</tspan><tspan x="2130.41" textLength="33.42" lengthAdjust="spacingAndGlyphs">0</tspan></text>
<rect x="1716" y="1376" width="139" height="2" fill="#7D4E4E"/>
<polygon points="1818.96,1376.8 1768.62,1347.74 1768.62,1405.86" fill="#7D4E4E" stroke="#7D4E4E" stroke-width="1.2" stroke-linejoin="round"/>
<text y="1400.8" font-size="71"><tspan x="1888.32" textLength="32.57" lengthAdjust="spacingAndGlyphs" stroke="#000" stroke-width="1">R</tspan><tspan x="1923.09" font-size="66.5" textLength="33.15" lengthAdjust="spacingAndGlyphs" stroke="#fff" stroke-width="0.7">e</tspan><tspan x="1958.45" font-size="66.5" textLength="31.46" lengthAdjust="spacingAndGlyphs" stroke="#fff" stroke-width="0.7">s</tspan><tspan x="1990.54" textLength="36.47" lengthAdjust="spacingAndGlyphs" stroke="#000" stroke-width="1">N</tspan><tspan x="2026.74" font-size="66.5" textLength="33.15" lengthAdjust="spacingAndGlyphs" stroke="#fff" stroke-width="0.7">e</tspan><tspan x="2066.32" font-size="66.5" textLength="23.09" lengthAdjust="spacingAndGlyphs" stroke="#fff" stroke-width="0.7">t</tspan><tspan x="2097.03" textLength="29.44" lengthAdjust="spacingAndGlyphs" stroke="#000" stroke-width="0.5">1</tspan><tspan x="2130.41" textLength="33.42" lengthAdjust="spacingAndGlyphs">0</tspan><tspan x="2166.13" textLength="29.44" lengthAdjust="spacingAndGlyphs" stroke="#000" stroke-width="0.5">1</tspan></text>
<rect x="1716" y="1451" width="139" height="2" fill="#8E8E00"/>
<polygon points="1785.4,1416.25 1820.75,1451.6 1785.4,1486.95 1750.05,1451.6" fill="#8E8E00" stroke="#8E8E00" stroke-width="1.2" stroke-linejoin="round"/>
<text y="1475.6" font-size="71"><tspan x="1887.79" textLength="35.52" lengthAdjust="spacingAndGlyphs" stroke="#000" stroke-width="1">D</tspan><tspan x="1923.09" font-size="66.5" textLength="33.15" lengthAdjust="spacingAndGlyphs" stroke="#fff" stroke-width="0.7">e</tspan><tspan x="1957.49" font-size="66.5">n</tspan><tspan x="1993" font-size="66.5" textLength="31.46" lengthAdjust="spacingAndGlyphs" stroke="#fff" stroke-width="0.7">s</tspan><tspan x="2026.74" font-size="66.5" textLength="33.15" lengthAdjust="spacingAndGlyphs" stroke="#fff" stroke-width="0.7">e</tspan><tspan x="2059.64" textLength="36.47" lengthAdjust="spacingAndGlyphs" stroke="#000" stroke-width="1">N</tspan><tspan x="2095.84" font-size="66.5" textLength="33.15" lengthAdjust="spacingAndGlyphs" stroke="#fff" stroke-width="0.7">e</tspan><tspan x="2135.42" font-size="66.5" textLength="23.09" lengthAdjust="spacingAndGlyphs" stroke="#fff" stroke-width="0.7">t</tspan><tspan x="2166.13" textLength="29.44" lengthAdjust="spacingAndGlyphs" stroke="#000" stroke-width="0.5">1</tspan><tspan x="2198.87">2</tspan><tspan x="2235.23" textLength="29.44" lengthAdjust="spacingAndGlyphs" stroke="#000" stroke-width="0.5">1</tspan></text>
<rect x="1716" y="1527" width="139" height="2" fill="#FB6501"/>
<polygon points="1785.4,1504.47 1791.21,1519.6 1807.39,1520.45 1794.8,1530.65 1798.99,1546.31 1785.4,1537.48 1771.81,1546.31 1776,1530.65 1763.41,1520.45 1779.59,1519.6" fill="#FB6501" stroke="#FB6501" stroke-width="1.2" stroke-linejoin="round"/>
<text y="1551.6" font-size="71"><tspan x="1887.17" textLength="36.23" lengthAdjust="spacingAndGlyphs" stroke="#000" stroke-width="1">M</tspan><tspan x="1922.5" font-size="66.5" textLength="34.65" lengthAdjust="spacingAndGlyphs">o</tspan><tspan x="1959.69" font-size="66.5" textLength="31.79" lengthAdjust="spacingAndGlyphs">b</tspan><tspan x="1997.3" font-size="66.5" textLength="23.09" lengthAdjust="spacingAndGlyphs" stroke="#fff" stroke-width="0.7">i</tspan><tspan x="2031.93" font-size="66.5" textLength="23.09" lengthAdjust="spacingAndGlyphs" stroke="#fff" stroke-width="0.7">l</tspan><tspan x="2061.29" font-size="66.5" textLength="33.15" lengthAdjust="spacingAndGlyphs" stroke="#fff" stroke-width="0.7">e</tspan><tspan x="2094.19" textLength="36.47" lengthAdjust="spacingAndGlyphs" stroke="#000" stroke-width="1">N</tspan><tspan x="2130.39" font-size="66.5" textLength="33.15" lengthAdjust="spacingAndGlyphs" stroke="#fff" stroke-width="0.7">e</tspan><tspan x="2169.97" font-size="66.5" textLength="23.09" lengthAdjust="spacingAndGlyphs" stroke="#fff" stroke-width="0.7">t</tspan><tspan x="2199.29" textLength="33.88" lengthAdjust="spacingAndGlyphs" stroke="#000" stroke-width="1">V</tspan><tspan x="2233.42">2</tspan></text>
</svg>
</body>
</html>
